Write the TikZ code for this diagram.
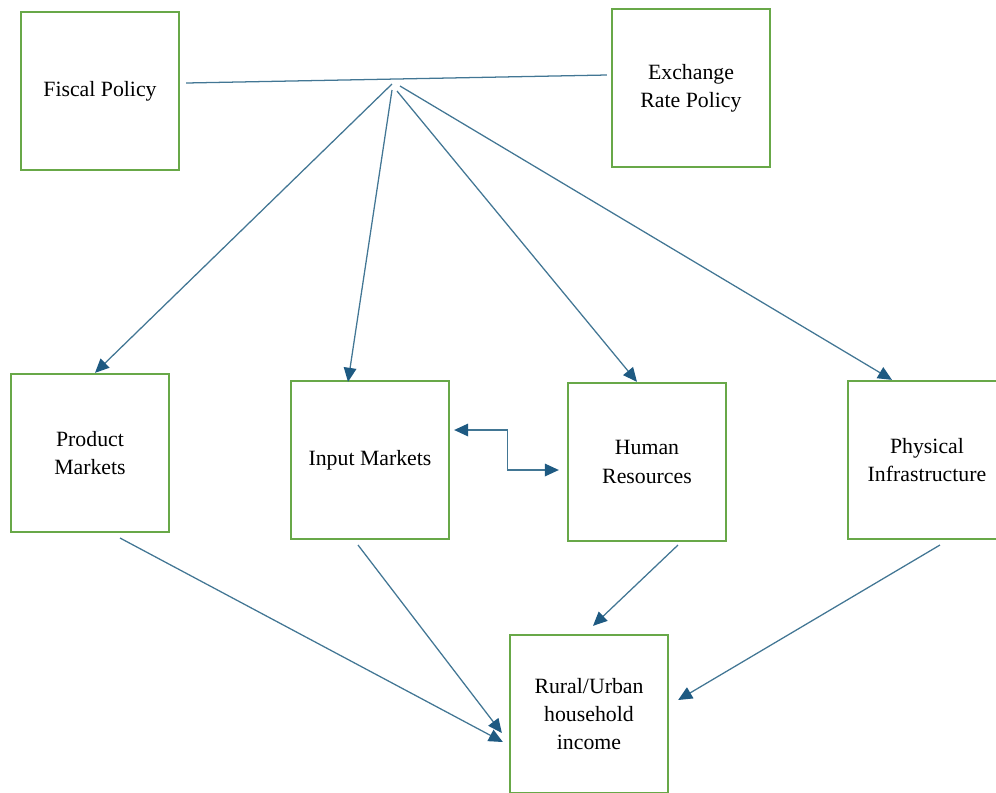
\documentclass[tikz,border=0pt]{standalone}
\usepackage{fontspec}
\setmainfont{Liberation Serif}
\usepackage{tikz}
\usetikzlibrary{arrows.meta}
\definecolor{boxcol}{RGB}{104,168,72}
\definecolor{linkcol}{RGB}{66,118,148}
\definecolor{tipcol}{RGB}{30,90,130}
\tikzset{
  every node/.style={font=\fontsize{15.5}{20}\selectfont, align=center},
  policybox/.style={draw=boxcol, line width=1.6pt, minimum width=3.95cm,
    minimum height=3.95cm, inner sep=2pt},
  link/.style={linkcol, line width=0.9pt, ->},
}

\begin{document}
\begin{tikzpicture}[x=0.025cm, y=-0.025cm,
    >={Triangle[length=10pt, width=9pt, color=tipcol, fill=tipcol]}]

  % Page frame.
  \useasboundingbox (0,0) rectangle (996,792);
  \clip (0,0) rectangle (996,792);

  % Policy boxes on top.
  \node[policybox] (fisc) at (100,91) {Fiscal Policy};
  \node[policybox] (exch) at (691,88) {Exchange\\Rate Policy};

  % Middle row.
  \node[policybox] (prod) at (90,453)  {Product\\Markets};
  \node[policybox] (inp)  at (370,460) {Input Markets};
  \node[policybox] (hum)  at (647,462) {Human\\Resources};
  \node[policybox] (phys) at (927,460) {Physical\\Infrastructure};

  % Outcome box at the bottom.
  \node[policybox] (inc) at (589,714) {Rural/Urban\\household\\income};

  % Joint policy line and the points the arrows leave from.
  \draw[linkcol, line width=0.9pt] ([shift={(6,0)}]fisc.east |- 0,83)
    -- ([shift={(-4,0)}]exch.west |- 0,75);
  \coordinate (hubA) at (392,84);
  \coordinate (hubB) at (392,90);
  \coordinate (hubC) at (397,91);
  \coordinate (hubD) at (400,86);

  % Policy channels.
  \draw[link] (hubA) -- ([shift={(5,0)}]prod.north);
  \draw[link] (hubB) -- ([shift={(-22,2)}]inp.north);
  \draw[link] (hubC) -- ([shift={(-10,0)}]hum.north);
  \draw[link] (hubD) -- ([shift={(-35,0)}]phys.north);

  % Input markets <-> human resources.
  \draw[link, <->] ([shift={(4,-30)}]inp.east) -- ++(53,0)
    |- ([shift={(-8,8)}]hum.west);

  % Effects on household income.
  \coordinate (prodOut) at (120,538);
  \coordinate (inpOut)  at (358,545);
  \coordinate (humOut)  at (678,545);
  \coordinate (physOut) at (940,545);
  \draw[link] (prodOut) -- ([shift={(-6,28)}]inc.west);
  \draw[link] (inpOut)  -- ([shift={(-7,19)}]inc.west);
  \draw[link] (humOut)  -- ([shift={(4,-8)}]inc.north);
  \draw[link] (physOut) -- ([shift={(9,-14)}]inc.east);

\end{tikzpicture}
\end{document}
